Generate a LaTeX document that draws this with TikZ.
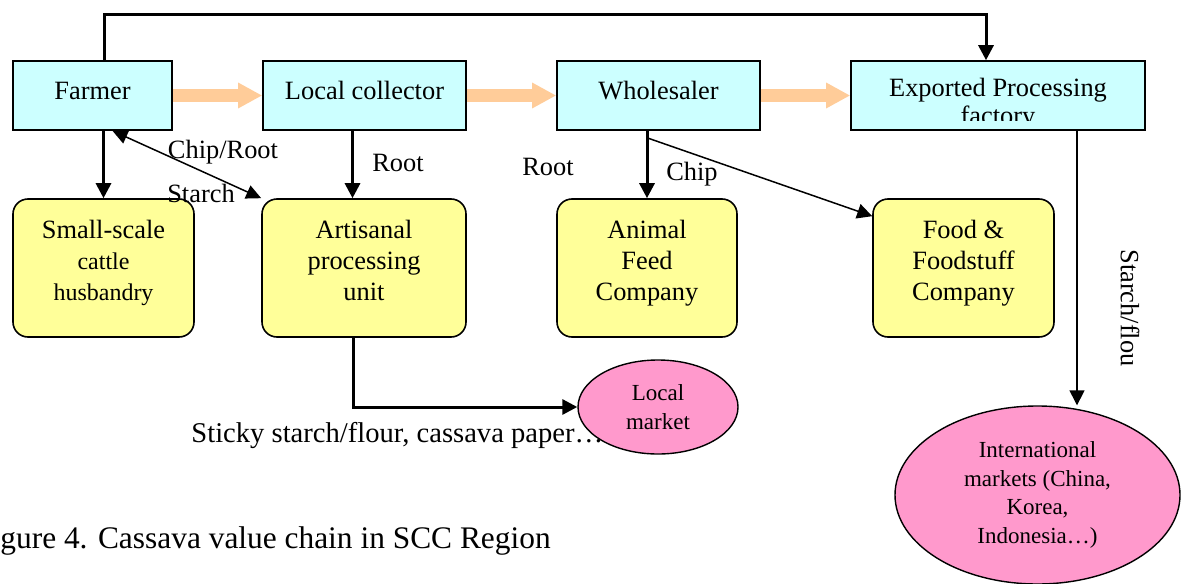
\documentclass[tikz,border=0pt]{standalone}
\usepackage{fontspec}
\setmainfont{Liberation Serif}
\usetikzlibrary{arrows.meta,shapes.geometric}

\definecolor{cyanbox}{HTML}{CCFFFF}
\definecolor{yellowbox}{HTML}{FFFF99}
\definecolor{pinkbox}{HTML}{FF99CC}
\definecolor{orangeflow}{HTML}{FFCC99}

\begin{document}
\begin{tikzpicture}[x=0.5pt, y=-0.5pt,
    font=\fontsize{13.2}{15.5}\selectfont,
    actor/.style = {shape=rectangle, draw, line width=0.8pt,
      fill=cyanbox, minimum height=34.5pt, text height=9pt, text depth=5.5pt},
    firm/.style = {shape=rectangle, rounded corners=7.5pt, draw,
      line width=0.8pt, fill=yellowbox, align=center,
      minimum height=69pt, text depth=8pt},
    market/.style = {shape=ellipse, draw, line width=0.7pt, fill=pinkbox,
      align=center, inner sep=0pt,
      font=\fontsize{11.5}{14.2}\selectfont},
    flow/.style = {draw=orangeflow, line width=6.5pt,
      -{Triangle[length=12pt,width=12pt]}},
    link/.style = {line width=1.5pt, -{Triangle[length=7.5pt,width=7.5pt]}},
    slim/.style = {line width=0.75pt, -{Triangle[length=7.5pt,width=7.5pt]}}]
  \useasboundingbox (0,0) rectangle (1181,583);

  % actors along the chain
  \node[actor, minimum width=79.5pt] (farmer) at (92.5,95.5) {Farmer};
  \node[actor, minimum width=101.5pt] (coll) at (364.5,95.5) {Local collector};
  \node[actor, minimum width=101.5pt] (whole) at (658.5,95.5) {Wholesaler};
  \node[actor, minimum width=147pt] (exp) at (998,95.5) {};
  \begin{scope}
    \clip (853,63) rectangle (1143,120);
    \node[align=center, font=\fontsize{13.2}{14}\selectfont] (exptext) at (998,104)
      {Exported Processing\\factory};
  \end{scope}

  % buyers
  \node[firm, minimum width=90.5pt] (cattle) at (103.5,268)
    {Small-scale\\{\fontsize{12}{15.5}\selectfont cattle}\\{\fontsize{12}{15.5}\selectfont husbandry}};
  \node[firm, minimum width=102pt] (artisan) at (364,268) {Artisanal\\processing\\unit};
  \node[firm, minimum width=90pt] (feed) at (647,268) {Animal\\Feed\\Company};
  \node[firm, minimum width=90.5pt] (food) at (963.5,268) {Food \&\\Foodstuff\\Company};

  % markets
  \node[market, minimum width=80pt, minimum height=47pt] (local) at (658,407) {Local\\market};
  \node[market, minimum width=142.5pt, minimum height=89pt] (intl) at (1037.5,495)
    {International\\markets (China,\\Korea,\\Indonesia\ldots)};

  % main flow
  \draw[flow] (farmer) -- (coll);
  \draw[flow] (coll) -- (whole);
  \draw[flow] (whole) -- (exp);

  % other connectors
  \coordinate (c1) at ([xshift=-6pt]coll.south);
  \coordinate (w1) at (feed.north |- whole.south);
  \coordinate (e1) at ([xshift=39.5pt]exp.south);
  \draw[link] ([xshift=5.75pt]farmer.north) -- ++(0,-46) -| ([xshift=-6pt]exp.north);
  \draw[link] (cattle.north |- farmer.south) -- (cattle.north);
  \draw[slim, {Triangle[length=7.5pt,width=7pt]}-{Triangle[length=7.5pt,width=7pt]}]
    ([xshift=10pt]farmer.south) -- (artisan.north west);
  \draw[link] (c1) -- (c1 |- artisan.north);
  \draw[link] (w1) -- (feed.north);
  \draw[slim] ([yshift=-3.5pt]w1) -- ([yshift=-9pt]food.north west);
  \draw[link] ([xshift=-5.5pt]artisan.south) |- (local.west);
  \draw[slim] (e1) -- (e1 |- intl.north);

  % labels
  \node (chiproot) at (223,152) {Chip/Root};
  \node (starch) at (201,193) {Starch};
  \node (root1) at (398,163) {Root};
  \node (root2) at (548,167) {Root};
  \node (chip) at (692,174) {Chip};
  \node[rotate=-90] (flou) at (1130,308) {Starch/flou};
  \node[anchor=west, inner sep=0pt, font=\fontsize{14.3}{17}\selectfont] (sticky) at (191,436)
    {Sticky starch/flour, cassava paper\ldots};
  \node[anchor=west, inner sep=0pt, font=\fontsize{15.7}{18}\selectfont] (caption) at (0,541)
    {gure 4. Cassava value chain in SCC Region};
\end{tikzpicture}
\end{document}
